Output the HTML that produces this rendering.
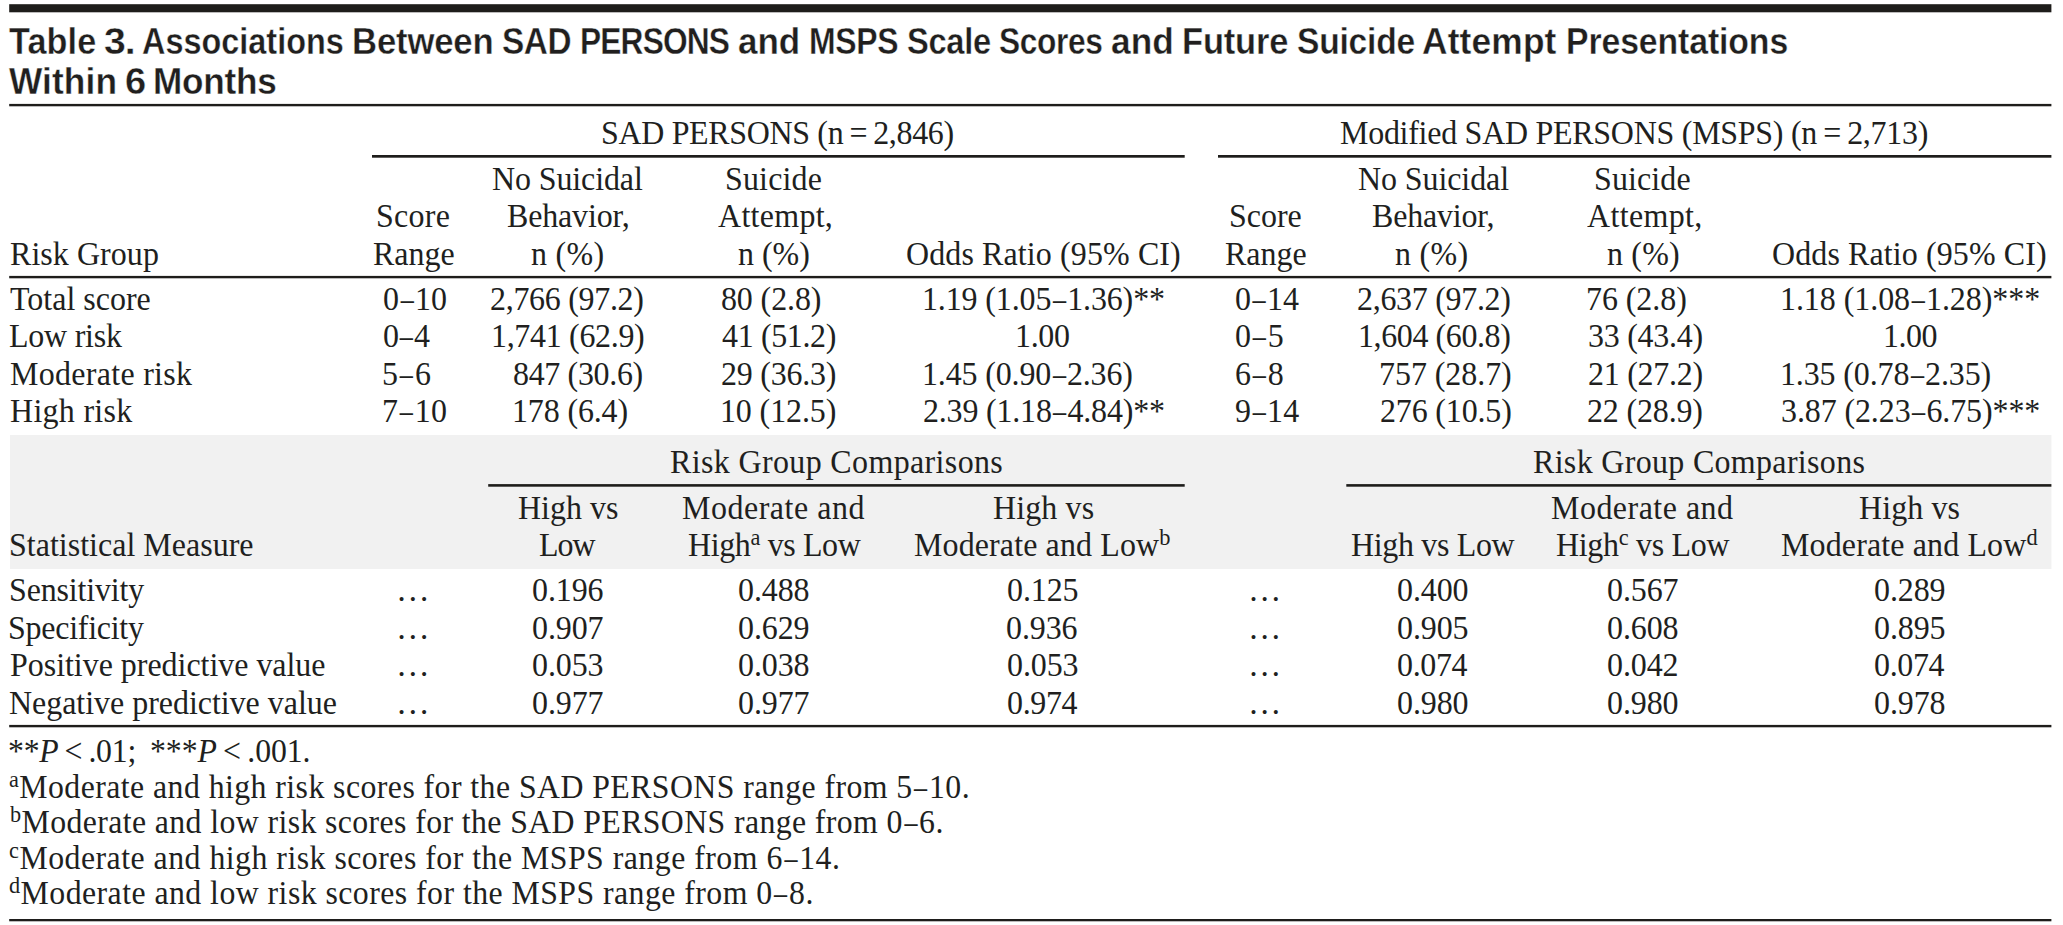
<!DOCTYPE html>
<html lang="en">
<head>
<meta charset="utf-8">
<title>Table 3</title>
<style>
html,body{margin:0;padding:0;background:#fff;}
body{width:2063px;height:925px;position:relative;overflow:hidden;color:#211f1e;}
.s{font-family:"Liberation Serif",serif;transform-origin:0 50%;}
.t{font-family:"Liberation Sans",sans-serif;font-weight:bold;transform-origin:0 50%;-webkit-text-stroke:0.35px #fff;}
.x{position:absolute;white-space:pre;line-height:40px;height:40px;display:block;}
.sp{font-size:0.70em;position:relative;top:-0.48em;line-height:0;}
.en{display:inline-block;transform:scaleX(0.82);}
i{font-style:italic;}
h1{margin:0;font-size:inherit;font-weight:normal;}
svg{position:absolute;left:0;top:0;}
</style>
</head>
<body>
<svg width="2063" height="925" viewBox="0 0 2063 925"><rect x="10.00" y="435.00" width="2041.40" height="134.00" fill="#f1f1f1"/><rect x="9.20" y="4.20" width="2042.20" height="8.10" fill="#1e1d1b"/><rect x="9.20" y="103.90" width="2042.20" height="2.40" fill="#1e1d1b"/><rect x="372.00" y="155.00" width="812.70" height="2.70" fill="#1e1d1b"/><rect x="1218.00" y="155.00" width="833.40" height="2.70" fill="#1e1d1b"/><rect x="9.20" y="275.90" width="2042.20" height="2.40" fill="#1e1d1b"/><rect x="488.20" y="484.10" width="696.50" height="2.60" fill="#1e1d1b"/><rect x="1346.30" y="484.10" width="705.10" height="2.60" fill="#1e1d1b"/><rect x="9.20" y="724.90" width="2042.20" height="2.40" fill="#1e1d1b"/><rect x="9.20" y="919.00" width="2042.20" height="2.30" fill="#1e1d1b"/></svg>
<h1>
<span class="x t" style="left:9.25px;top:22px;font-size:36px;letter-spacing:0.132px;transform:scaleX(0.9494);">Table</span>
<span class="x t" style="left:104.15px;top:22px;font-size:36px;letter-spacing:-1.011px;transform:scaleX(1.0885);">3.</span>
<span class="x t" style="left:141.70px;top:22px;font-size:36px;transform:scaleX(0.9005);">Associations</span>
<span class="x t" style="left:352.35px;top:22px;font-size:36px;letter-spacing:-0.156px;transform:scaleX(0.9629);">Between</span>
<span class="x t" style="left:502.15px;top:22px;font-size:36px;letter-spacing:-0.486px;transform:scaleX(0.9264);">SAD</span>
<span class="x t" style="left:579.70px;top:22px;font-size:36px;letter-spacing:-0.947px;transform:scaleX(0.8800);">PERSONS</span>
<span class="x t" style="left:737.65px;top:22px;font-size:36px;letter-spacing:-0.051px;transform:scaleX(0.9717);">and</span>
<span class="x t" style="left:808.70px;top:22px;font-size:36px;letter-spacing:-0.376px;transform:scaleX(0.8866);">MSPS</span>
<span class="x t" style="left:906.50px;top:22px;font-size:36px;letter-spacing:-0.331px;transform:scaleX(0.9067);">Scale</span>
<span class="x t" style="left:999.35px;top:22px;font-size:36px;letter-spacing:-0.432px;transform:scaleX(0.8800);">Scores</span>
<span class="x t" style="left:1111.15px;top:22px;font-size:36px;letter-spacing:0.051px;transform:scaleX(0.9783);">and</span>
<span class="x t" style="left:1182.00px;top:22px;font-size:36px;letter-spacing:-0.167px;transform:scaleX(0.9570);">Future</span>
<span class="x t" style="left:1296.50px;top:22px;font-size:36px;letter-spacing:-0.215px;transform:scaleX(0.9323);">Suicide</span>
<span class="x t" style="left:1422.15px;top:22px;font-size:36px;letter-spacing:0.187px;transform:scaleX(0.9800);">Attempt</span>
<span class="x t" style="left:1565.50px;top:22px;font-size:36px;letter-spacing:-0.107px;transform:scaleX(0.9382);">Presentations</span>
<span class="x t" style="left:9.25px;top:62px;font-size:36px;letter-spacing:0.102px;transform:scaleX(0.9800);">Within</span>
<span class="x t" style="left:124.50px;top:62px;font-size:36px;transform:scaleX(1.0556);">6</span>
<span class="x t" style="left:153.00px;top:62px;font-size:36px;letter-spacing:-0.205px;transform:scaleX(0.9756);">Months</span>
</h1>
<div class="tbl">
<span class="x s" style="left:600.50px;top:113px;font-size:33.6px;letter-spacing:-0.344px;transform:scaleX(0.9520);">SAD PERSONS (n = 2,846)</span>
<span class="x s" style="left:1340.15px;top:113px;font-size:33.6px;letter-spacing:-0.274px;transform:scaleX(0.9520);">Modified SAD PERSONS (MSPS) (n = 2,713)</span>
<span class="x s" style="left:9.60px;top:234px;font-size:33.6px;letter-spacing:0.070px;transform:scaleX(0.9520);">Risk Group</span>
<span class="x s" style="left:376.15px;top:196px;font-size:33.6px;letter-spacing:0.289px;transform:scaleX(0.9520);">Score</span>
<span class="x s" style="left:372.65px;top:234px;font-size:33.6px;letter-spacing:-0.026px;transform:scaleX(0.9520);">Range</span>
<span class="x s" style="left:492.30px;top:159px;font-size:33.6px;letter-spacing:-0.105px;transform:scaleX(0.9520);">No Suicidal</span>
<span class="x s" style="left:506.50px;top:196px;font-size:33.6px;letter-spacing:-0.158px;transform:scaleX(0.9520);">Behavior,</span>
<span class="x s" style="left:531.00px;top:234px;font-size:33.6px;letter-spacing:0.315px;transform:scaleX(0.9520);">n (%)</span>
<span class="x s" style="left:725.30px;top:159px;font-size:33.6px;letter-spacing:0.175px;transform:scaleX(0.9520);">Suicide</span>
<span class="x s" style="left:717.85px;top:196px;font-size:33.6px;letter-spacing:0.315px;transform:scaleX(0.9520);">Attempt,</span>
<span class="x s" style="left:737.70px;top:234px;font-size:33.6px;transform:scaleX(0.9520);">n (%)</span>
<span class="x s" style="left:905.50px;top:234px;font-size:33.6px;letter-spacing:0.128px;transform:scaleX(0.9520);">Odds Ratio (95% CI)</span>
<span class="x s" style="left:1228.70px;top:196px;font-size:33.6px;transform:scaleX(0.9520);">Score</span>
<span class="x s" style="left:1224.70px;top:234px;font-size:33.6px;transform:scaleX(0.9520);">Range</span>
<span class="x s" style="left:1357.50px;top:159px;font-size:33.6px;letter-spacing:-0.084px;transform:scaleX(0.9520);">No Suicidal</span>
<span class="x s" style="left:1371.75px;top:196px;font-size:33.6px;letter-spacing:-0.197px;transform:scaleX(0.9520);">Behavior,</span>
<span class="x s" style="left:1395.30px;top:234px;font-size:33.6px;letter-spacing:0.315px;transform:scaleX(0.9520);">n (%)</span>
<span class="x s" style="left:1593.75px;top:159px;font-size:33.6px;letter-spacing:0.123px;transform:scaleX(0.9520);">Suicide</span>
<span class="x s" style="left:1586.60px;top:196px;font-size:33.6px;letter-spacing:0.390px;transform:scaleX(0.9520);">Attempt,</span>
<span class="x s" style="left:1606.70px;top:234px;font-size:33.6px;letter-spacing:0.210px;transform:scaleX(0.9520);">n (%)</span>
<span class="x s" style="left:1772.30px;top:234px;font-size:33.6px;letter-spacing:0.117px;transform:scaleX(0.9520);">Odds Ratio (95% CI)</span>
<span class="x s" style="left:10.35px;top:279px;font-size:33.6px;letter-spacing:0.011px;transform:scaleX(0.9520);">Total score</span>
<span class="x s" style="left:9.40px;top:316px;font-size:33.6px;letter-spacing:-0.240px;transform:scaleX(0.9520);">Low risk</span>
<span class="x s" style="left:9.60px;top:354px;font-size:33.6px;letter-spacing:0.315px;transform:scaleX(0.9520);">Moderate risk</span>
<span class="x s" style="left:9.90px;top:391px;font-size:33.6px;letter-spacing:0.315px;transform:scaleX(0.9520);">High risk</span>
<span class="x s" style="left:382.85px;top:279px;font-size:33.6px;letter-spacing:0.035px;transform:scaleX(0.9520);">0<span class="en">–</span>10</span>
<span class="x s" style="left:383.00px;top:316px;font-size:33.6px;letter-spacing:-0.525px;transform:scaleX(0.9520);">0<span class="en">–</span>4</span>
<span class="x s" style="left:382.00px;top:354px;font-size:33.6px;letter-spacing:0.525px;transform:scaleX(0.9520);">5<span class="en">–</span>6</span>
<span class="x s" style="left:381.85px;top:391px;font-size:33.6px;letter-spacing:0.385px;transform:scaleX(0.9520);">7<span class="en">–</span>10</span>
<span class="x s" style="left:489.50px;top:279px;font-size:33.6px;letter-spacing:-0.306px;transform:scaleX(0.9520);">2,766 (97.2)</span>
<span class="x s" style="left:490.50px;top:316px;font-size:33.6px;letter-spacing:-0.325px;transform:scaleX(0.9520);">1,741 (62.9)</span>
<span class="x s" style="left:513.30px;top:354px;font-size:33.6px;letter-spacing:-0.350px;transform:scaleX(0.9520);">847 (30.6)</span>
<span class="x s" style="left:512.15px;top:391px;font-size:33.6px;letter-spacing:-0.144px;transform:scaleX(0.9520);">178 (6.4)</span>
<span class="x s" style="left:720.50px;top:279px;font-size:33.6px;letter-spacing:-0.120px;transform:scaleX(0.9520);">80 (2.8)</span>
<span class="x s" style="left:721.50px;top:316px;font-size:33.6px;letter-spacing:-0.368px;transform:scaleX(0.9520);">41 (51.2)</span>
<span class="x s" style="left:720.50px;top:354px;font-size:33.6px;letter-spacing:-0.236px;transform:scaleX(0.9520);">29 (36.3)</span>
<span class="x s" style="left:719.85px;top:391px;font-size:33.6px;letter-spacing:-0.118px;transform:scaleX(0.9520);">10 (12.5)</span>
<span class="x s" style="left:921.85px;top:279px;font-size:33.6px;letter-spacing:-0.130px;transform:scaleX(0.9520);">1.19 (1.05<span class="en">–</span>1.36)**</span>
<span class="x s" style="left:1015.00px;top:316px;font-size:33.6px;letter-spacing:-0.350px;transform:scaleX(0.9520);">1.00</span>
<span class="x s" style="left:921.50px;top:354px;font-size:33.6px;letter-spacing:-0.154px;transform:scaleX(0.9520);">1.45 (0.90<span class="en">–</span>2.36)</span>
<span class="x s" style="left:922.85px;top:391px;font-size:33.6px;letter-spacing:-0.192px;transform:scaleX(0.9520);">2.39 (1.18<span class="en">–</span>4.84)**</span>
<span class="x s" style="left:1234.70px;top:279px;font-size:33.6px;transform:scaleX(0.9520);">0<span class="en">–</span>14</span>
<span class="x s" style="left:1234.50px;top:316px;font-size:33.6px;letter-spacing:0.420px;transform:scaleX(0.9520);">0<span class="en">–</span>5</span>
<span class="x s" style="left:1234.50px;top:354px;font-size:33.6px;letter-spacing:0.420px;transform:scaleX(0.9520);">6<span class="en">–</span>8</span>
<span class="x s" style="left:1235.00px;top:391px;font-size:33.6px;letter-spacing:0.070px;transform:scaleX(0.9520);">9<span class="en">–</span>14</span>
<span class="x s" style="left:1357.40px;top:279px;font-size:33.6px;letter-spacing:-0.306px;transform:scaleX(0.9520);">2,637 (97.2)</span>
<span class="x s" style="left:1358.25px;top:316px;font-size:33.6px;letter-spacing:-0.411px;transform:scaleX(0.9520);">1,604 (60.8)</span>
<span class="x s" style="left:1379.10px;top:354px;font-size:33.6px;letter-spacing:-0.047px;transform:scaleX(0.9520);">757 (28.7)</span>
<span class="x s" style="left:1379.60px;top:391px;font-size:33.6px;letter-spacing:-0.163px;transform:scaleX(0.9520);">276 (10.5)</span>
<span class="x s" style="left:1586.10px;top:279px;font-size:33.6px;letter-spacing:-0.060px;transform:scaleX(0.9520);">76 (2.8)</span>
<span class="x s" style="left:1587.50px;top:316px;font-size:33.6px;letter-spacing:-0.263px;transform:scaleX(0.9520);">33 (43.4)</span>
<span class="x s" style="left:1587.50px;top:354px;font-size:33.6px;letter-spacing:-0.263px;transform:scaleX(0.9520);">21 (27.2)</span>
<span class="x s" style="left:1586.90px;top:391px;font-size:33.6px;letter-spacing:-0.158px;transform:scaleX(0.9520);">22 (28.9)</span>
<span class="x s" style="left:1779.85px;top:279px;font-size:33.6px;letter-spacing:-0.053px;transform:scaleX(0.9520);">1.18 (1.08<span class="en">–</span>1.28)***</span>
<span class="x s" style="left:1882.75px;top:316px;font-size:33.6px;letter-spacing:-0.525px;transform:scaleX(0.9520);">1.00</span>
<span class="x s" style="left:1779.85px;top:354px;font-size:33.6px;letter-spacing:-0.133px;transform:scaleX(0.9520);">1.35 (0.78<span class="en">–</span>2.35)</span>
<span class="x s" style="left:1781.00px;top:391px;font-size:33.6px;letter-spacing:-0.105px;transform:scaleX(0.9520);">3.87 (2.23<span class="en">–</span>6.75)***</span>
<span class="x s" style="left:669.50px;top:442px;font-size:33.6px;letter-spacing:0.390px;transform:scaleX(0.9520);">Risk Group Comparisons</span>
<span class="x s" style="left:1533.35px;top:442px;font-size:33.6px;letter-spacing:0.345px;transform:scaleX(0.9520);">Risk Group Comparisons</span>
<span class="x s" style="left:8.90px;top:525px;font-size:33.6px;letter-spacing:0.023px;transform:scaleX(0.9520);">Statistical Measure</span>
<span class="x s" style="left:517.50px;top:488px;font-size:33.6px;letter-spacing:0.035px;transform:scaleX(0.9520);">High vs</span>
<span class="x s" style="left:539.00px;top:525px;font-size:33.6px;letter-spacing:-1.050px;transform:scaleX(0.9520);">Low</span>
<span class="x s" style="left:682.10px;top:488px;font-size:33.6px;letter-spacing:0.554px;transform:scaleX(0.9520);">Moderate and</span>
<span class="x s" style="left:687.65px;top:525px;font-size:33.6px;letter-spacing:-0.392px;transform:scaleX(0.9520);">High<span class="sp">a</span> vs Low</span>
<span class="x s" style="left:992.50px;top:488px;font-size:33.6px;letter-spacing:0.140px;transform:scaleX(0.9520);">High vs</span>
<span class="x s" style="left:914.30px;top:525px;font-size:33.6px;letter-spacing:0.131px;transform:scaleX(0.9520);">Moderate and Low<span class="sp">b</span></span>
<span class="x s" style="left:1350.75px;top:525px;font-size:33.6px;letter-spacing:-0.347px;transform:scaleX(0.9520);">High vs Low</span>
<span class="x s" style="left:1551.40px;top:488px;font-size:33.6px;letter-spacing:0.516px;transform:scaleX(0.9520);">Moderate and</span>
<span class="x s" style="left:1555.90px;top:525px;font-size:33.6px;letter-spacing:-0.325px;transform:scaleX(0.9520);">High<span class="sp">c</span> vs Low</span>
<span class="x s" style="left:1859.45px;top:488px;font-size:33.6px;letter-spacing:0.123px;transform:scaleX(0.9520);">High vs</span>
<span class="x s" style="left:1780.80px;top:525px;font-size:33.6px;letter-spacing:0.144px;transform:scaleX(0.9520);">Moderate and Low<span class="sp">d</span></span>
<span class="x s" style="left:8.75px;top:570px;font-size:33.6px;letter-spacing:-0.158px;transform:scaleX(0.9520);">Sensitivity</span>
<span class="x s" style="left:8.25px;top:608px;font-size:33.6px;letter-spacing:-0.263px;transform:scaleX(0.9520);">Specificity</span>
<span class="x s" style="left:9.75px;top:645px;font-size:33.6px;letter-spacing:-0.022px;transform:scaleX(0.9520);">Positive predictive value</span>
<span class="x s" style="left:9.25px;top:683px;font-size:33.6px;letter-spacing:-0.022px;transform:scaleX(0.9520);">Negative predictive value</span>
<span class="x s" style="left:531.50px;top:570px;font-size:33.6px;letter-spacing:-0.105px;transform:scaleX(0.9520);">0.196</span>
<span class="x s" style="left:531.50px;top:608px;font-size:33.6px;letter-spacing:-0.105px;transform:scaleX(0.9520);">0.907</span>
<span class="x s" style="left:532.00px;top:645px;font-size:33.6px;letter-spacing:-0.105px;transform:scaleX(0.9520);">0.053</span>
<span class="x s" style="left:531.50px;top:683px;font-size:33.6px;letter-spacing:-0.105px;transform:scaleX(0.9520);">0.977</span>
<span class="x s" style="left:738.10px;top:570px;font-size:33.6px;letter-spacing:-0.105px;transform:scaleX(0.9520);">0.488</span>
<span class="x s" style="left:738.10px;top:608px;font-size:33.6px;letter-spacing:-0.105px;transform:scaleX(0.9520);">0.629</span>
<span class="x s" style="left:738.10px;top:645px;font-size:33.6px;letter-spacing:-0.105px;transform:scaleX(0.9520);">0.038</span>
<span class="x s" style="left:737.60px;top:683px;font-size:33.6px;letter-spacing:-0.105px;transform:scaleX(0.9520);">0.977</span>
<span class="x s" style="left:1006.70px;top:570px;font-size:33.6px;letter-spacing:-0.105px;transform:scaleX(0.9520);">0.125</span>
<span class="x s" style="left:1006.20px;top:608px;font-size:33.6px;letter-spacing:-0.105px;transform:scaleX(0.9520);">0.936</span>
<span class="x s" style="left:1006.70px;top:645px;font-size:33.6px;letter-spacing:-0.105px;transform:scaleX(0.9520);">0.053</span>
<span class="x s" style="left:1006.70px;top:683px;font-size:33.6px;letter-spacing:-0.368px;transform:scaleX(0.9520);">0.974</span>
<span class="x s" style="left:1396.60px;top:570px;font-size:33.6px;letter-spacing:-0.105px;transform:scaleX(0.9520);">0.400</span>
<span class="x s" style="left:1396.60px;top:608px;font-size:33.6px;letter-spacing:-0.105px;transform:scaleX(0.9520);">0.905</span>
<span class="x s" style="left:1396.60px;top:645px;font-size:33.6px;letter-spacing:-0.368px;transform:scaleX(0.9520);">0.074</span>
<span class="x s" style="left:1396.60px;top:683px;font-size:33.6px;letter-spacing:-0.105px;transform:scaleX(0.9520);">0.980</span>
<span class="x s" style="left:1606.70px;top:570px;font-size:33.6px;letter-spacing:-0.105px;transform:scaleX(0.9520);">0.567</span>
<span class="x s" style="left:1607.20px;top:608px;font-size:33.6px;letter-spacing:-0.105px;transform:scaleX(0.9520);">0.608</span>
<span class="x s" style="left:1607.20px;top:645px;font-size:33.6px;letter-spacing:-0.105px;transform:scaleX(0.9520);">0.042</span>
<span class="x s" style="left:1607.20px;top:683px;font-size:33.6px;letter-spacing:-0.105px;transform:scaleX(0.9520);">0.980</span>
<span class="x s" style="left:1873.60px;top:570px;font-size:33.6px;letter-spacing:-0.105px;transform:scaleX(0.9520);">0.289</span>
<span class="x s" style="left:1873.60px;top:608px;font-size:33.6px;letter-spacing:-0.105px;transform:scaleX(0.9520);">0.895</span>
<span class="x s" style="left:1873.60px;top:645px;font-size:33.6px;letter-spacing:-0.368px;transform:scaleX(0.9520);">0.074</span>
<span class="x s" style="left:1873.60px;top:683px;font-size:33.6px;letter-spacing:-0.105px;transform:scaleX(0.9520);">0.978</span>
<span class="x s" style="left:396.00px;top:570px;font-size:33.6px;transform:scaleX(1.0033);">…</span>
<span class="x s" style="left:396.00px;top:608px;font-size:33.6px;transform:scaleX(1.0033);">…</span>
<span class="x s" style="left:396.00px;top:645px;font-size:33.6px;transform:scaleX(1.0033);">…</span>
<span class="x s" style="left:396.00px;top:683px;font-size:33.6px;transform:scaleX(1.0033);">…</span>
<span class="x s" style="left:1248.35px;top:570px;font-size:33.6px;transform:scaleX(0.9923);">…</span>
<span class="x s" style="left:1248.35px;top:608px;font-size:33.6px;transform:scaleX(0.9923);">…</span>
<span class="x s" style="left:1248.35px;top:645px;font-size:33.6px;transform:scaleX(0.9923);">…</span>
<span class="x s" style="left:1248.35px;top:683px;font-size:33.6px;transform:scaleX(0.9923);">…</span>
</div>
<div class="fn">
<span class="x s" style="left:8.40px;top:731px;font-size:33.4px;letter-spacing:-0.257px;transform:scaleX(0.9520);">**<i>P</i> &lt; .01;</span>
<span class="x s" style="left:150.00px;top:731px;font-size:33.4px;letter-spacing:-0.076px;transform:scaleX(0.9520);">***<i>P</i> &lt; .001.</span>
<span class="x s" style="left:9.20px;top:767px;font-size:33.4px;letter-spacing:0.462px;transform:scaleX(0.9520);"><span class="sp">a</span>Moderate and high risk scores for the SAD PERSONS range from 5<span class="en">–</span>10.</span>
<span class="x s" style="left:10.40px;top:802px;font-size:33.4px;letter-spacing:0.414px;transform:scaleX(0.9520);"><span class="sp">b</span>Moderate and low risk scores for the SAD PERSONS range from 0<span class="en">–</span>6.</span>
<span class="x s" style="left:9.05px;top:838px;font-size:33.4px;letter-spacing:0.518px;transform:scaleX(0.9520);"><span class="sp">c</span>Moderate and high risk scores for the MSPS range from 6<span class="en">–</span>14.</span>
<span class="x s" style="left:9.20px;top:873px;font-size:33.4px;letter-spacing:0.479px;transform:scaleX(0.9520);"><span class="sp">d</span>Moderate and low risk scores for the MSPS range from 0<span class="en">–</span>8.</span>
</div>
</body>
</html>
